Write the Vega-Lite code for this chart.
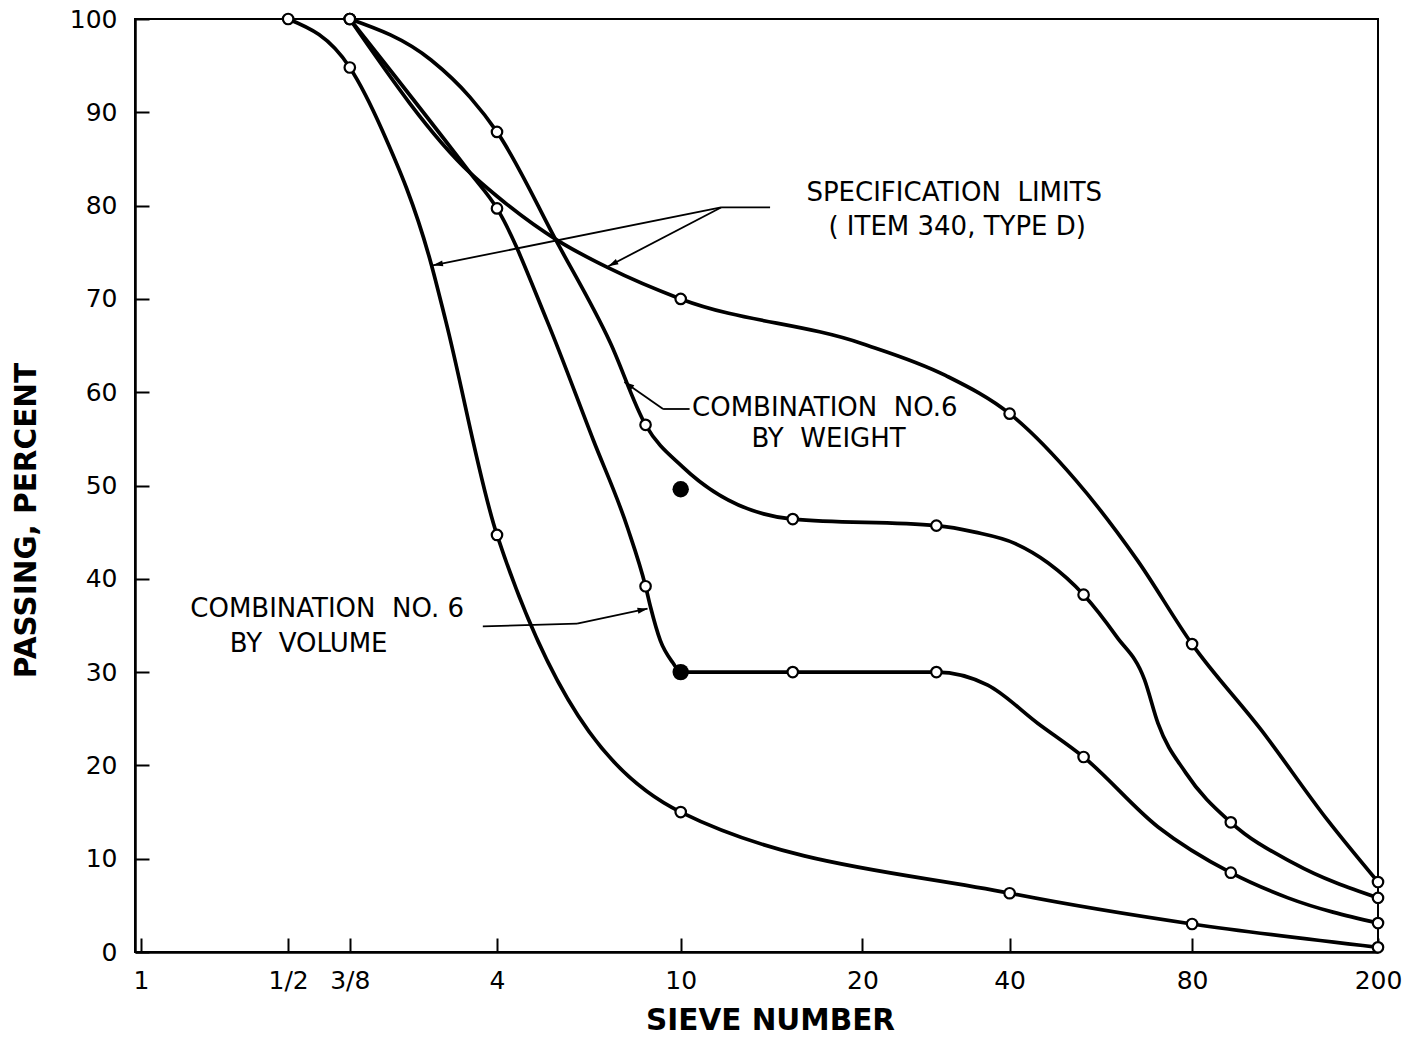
{
  "$schema": "https://vega.github.io/schema/vega-lite/v6.json",
  "width": 1243,
  "height": 933,
  "autosize": {"type": "none"},
  "padding": {"left": 135, "top": 19, "right": 36, "bottom": 87},
  "background": "white",
  "config": {
    "view": {"stroke": "black", "strokeWidth": 2},
    "font": "DejaVu Sans",
    "axis": {"grid": false}
  },
  "datasets": {
    "curves": [
      {"curve": "lower", "sieve": "1/2", "mm": 12.7, "pct": 100},
      {"curve": "lower", "sieve": "3/8", "mm": 9.5, "pct": 94.8},
      {"curve": "lower", "sieve": null, "mm": 8.16, "pct": 88.1},
      {"curve": "lower", "sieve": null, "mm": 6.48, "pct": 73.8},
      {"curve": "lower", "sieve": null, "mm": 6.05, "pct": 67.7},
      {"curve": "lower", "sieve": "4", "mm": 4.75, "pct": 44.7},
      {"curve": "lower", "sieve": "10", "mm": 2.0, "pct": 15.0},
      {"curve": "lower", "sieve": "40", "mm": 0.425, "pct": 6.3},
      {"curve": "lower", "sieve": "80", "mm": 0.18, "pct": 3.0},
      {"curve": "lower", "sieve": "200", "mm": 0.075, "pct": 0.5},

      {"curve": "upper", "sieve": "3/8", "mm": 9.5, "pct": 100},
      {"curve": "upper", "sieve": null, "mm": 5.39, "pct": 83.5},
      {"curve": "upper", "sieve": null, "mm": 4.75, "pct": 81.0},
      {"curve": "upper", "sieve": null, "mm": 3.58, "pct": 76.3},
      {"curve": "upper", "sieve": null, "mm": 2.83, "pct": 73.4},
      {"curve": "upper", "sieve": "10", "mm": 2.0, "pct": 70.0},
      {"curve": "upper", "sieve": null, "mm": 0.85, "pct": 65.2},
      {"curve": "upper", "sieve": null, "mm": 0.575, "pct": 61.8},
      {"curve": "upper", "sieve": "40", "mm": 0.425, "pct": 57.7},
      {"curve": "upper", "sieve": null, "mm": 0.3117, "pct": 50.6},
      {"curve": "upper", "sieve": null, "mm": 0.233, "pct": 42.0},
      {"curve": "upper", "sieve": "80", "mm": 0.18, "pct": 33.0},
      {"curve": "upper", "sieve": null, "mm": 0.13, "pct": 23.8},
      {"curve": "upper", "sieve": null, "mm": 0.095, "pct": 14.1},
      {"curve": "upper", "sieve": "200", "mm": 0.075, "pct": 7.5},

      {"curve": "weight", "sieve": "3/8", "mm": 9.5, "pct": 100},
      {"curve": "weight", "sieve": null, "mm": 6.48, "pct": 95.6},
      {"curve": "weight", "sieve": null, "mm": 5.39, "pct": 91.6},
      {"curve": "weight", "sieve": "4", "mm": 4.75, "pct": 87.9},
      {"curve": "weight", "sieve": null, "mm": 3.583, "pct": 76.1},
      {"curve": "weight", "sieve": null, "mm": 2.786, "pct": 65.3},
      {"curve": "weight", "sieve": "8", "mm": 2.36, "pct": 56.5},
      {"curve": "weight", "sieve": null, "mm": 1.982, "pct": 52.0},
      {"curve": "weight", "sieve": "16", "mm": 1.18, "pct": 46.4},
      {"curve": "weight", "sieve": "30", "mm": 0.6, "pct": 45.7},
      {"curve": "weight", "sieve": null, "mm": 0.5004, "pct": 45.0},
      {"curve": "weight", "sieve": null, "mm": 0.4149, "pct": 43.8},
      {"curve": "weight", "sieve": null, "mm": 0.3544, "pct": 41.7},
      {"curve": "weight", "sieve": "50", "mm": 0.3, "pct": 38.3},
      {"curve": "weight", "sieve": null, "mm": 0.2568, "pct": 33.8},
      {"curve": "weight", "sieve": null, "mm": 0.2252, "pct": 29.2},
      {"curve": "weight", "sieve": null, "mm": 0.2113, "pct": 24.5},
      {"curve": "weight", "sieve": null, "mm": 0.1854, "pct": 19.2},
      {"curve": "weight", "sieve": "100", "mm": 0.15, "pct": 13.9},
      {"curve": "weight", "sieve": null, "mm": 0.1114, "pct": 9.5},
      {"curve": "weight", "sieve": "200", "mm": 0.075, "pct": 5.8},

      {"curve": "volume", "sieve": "3/8", "mm": 9.5, "pct": 100},
      {"curve": "volume", "sieve": null, "mm": 5.39, "pct": 83.5},
      {"curve": "volume", "sieve": "4", "mm": 4.75, "pct": 79.7},
      {"curve": "volume", "sieve": null, "mm": 3.756, "pct": 67.7},
      {"curve": "volume", "sieve": null, "mm": 3.02, "pct": 54.9},
      {"curve": "volume", "sieve": null, "mm": 2.57, "pct": 45.5},
      {"curve": "volume", "sieve": "8", "mm": 2.36, "pct": 39.2},
      {"curve": "volume", "sieve": null, "mm": 2.306, "pct": 37.0},
      {"curve": "volume", "sieve": null, "mm": 2.202, "pct": 33.4},
      {"curve": "volume", "sieve": null, "mm": 2.075, "pct": 31.0},
      {"curve": "volume", "sieve": "10", "mm": 2.0, "pct": 30.0},
      {"curve": "volume", "sieve": "16", "mm": 1.18, "pct": 30.0},
      {"curve": "volume", "sieve": "30", "mm": 0.6, "pct": 30.0},
      {"curve": "volume", "sieve": null, "mm": 0.471, "pct": 28.6},
      {"curve": "volume", "sieve": null, "mm": 0.3719, "pct": 24.5},
      {"curve": "volume", "sieve": "50", "mm": 0.3, "pct": 20.9},
      {"curve": "volume", "sieve": null, "mm": 0.2113, "pct": 13.4},
      {"curve": "volume", "sieve": "100", "mm": 0.15, "pct": 8.5},
      {"curve": "volume", "sieve": null, "mm": 0.1146, "pct": 5.8},
      {"curve": "volume", "sieve": "200", "mm": 0.075, "pct": 3.1}
    ],
    "solid": [
      {"mm": 2.0, "pct": 49.6},
      {"mm": 2.0, "pct": 30.0}
    ],
    "leaders": [
      {"mm": 1.313, "pct": 79.8, "mm2": 1.654, "pct2": 79.8},
      {"mm": 1.654, "pct": 79.8, "mm2": 6.423, "pct2": 73.6},
      {"mm": 1.654, "pct": 79.8, "mm2": 2.812, "pct2": 73.5},
      {"mm": 1.918, "pct": 58.2, "mm2": 2.173, "pct2": 58.2},
      {"mm": 2.173, "pct": 58.2, "mm2": 2.607, "pct2": 61.1},
      {"mm": 5.078, "pct": 34.9, "mm2": 3.258, "pct2": 35.2},
      {"mm": 3.258, "pct": 35.2, "mm2": 2.338, "pct2": 36.8}
    ],
    "arrows": [
      {"name": "spec_lower", "mm": 6.423, "pct": 73.6},
      {"name": "spec_upper", "mm": 2.812, "pct": 73.5},
      {"name": "weight", "mm": 2.607, "pct": 61.1},
      {"name": "volume", "mm": 2.338, "pct": 36.8}
    ],
    "notes": [
      {"label": "SPECIFICATION \u00a0LIMITS", "mm": 0.5516, "pct": 81.35},
      {"label": "( ITEM 340, TYPE D)", "mm": 0.544, "pct": 77.7},
      {"label": "COMBINATION \u00a0NO.6", "mm": 1.015, "pct": 58.3},
      {"label": "BY \u00a0WEIGHT", "mm": 0.997, "pct": 55.0},
      {"label": "COMBINATION \u00a0NO. 6", "mm": 10.57, "pct": 36.76},
      {"label": "BY \u00a0VOLUME", "mm": 11.53, "pct": 33.0}
    ]
  },
  "encoding": {
    "x": {
      "field": "mm",
      "type": "quantitative",
      "scale": {"type": "log", "domain": [0.075, 26.12], "reverse": true, "nice": false, "zero": false},
      "axis": {
        "values": [25.4, 12.7, 9.5, 4.75, 2, 0.85, 0.425, 0.18, 0.075],
        "labelExpr": "datum.value == 25.4 ? '1' : datum.value == 12.7 ? '1/2' : datum.value == 9.5 ? '3/8' : datum.value == 4.75 ? '4' : datum.value == 2 ? '10' : datum.value == 0.85 ? '20' : datum.value == 0.425 ? '40' : datum.value == 0.18 ? '80' : '200'",
        "title": "SIEVE NUMBER",
        "tickSize": -14,
        "tickWidth": 2,
        "tickColor": "black",
        "domainColor": "black",
        "domainWidth": 2.5,
        "labelFontSize": 25,
        "labelColor": "black",
        "labelPadding": 30,
        "labelFlush": false,
        "labelOverlap": false,
        "titleFontSize": 29.5,
        "titleFontWeight": "bold",
        "titleColor": "black",
        "titlePadding": 13,
        "titleX": 635
      }
    },
    "y": {
      "field": "pct",
      "type": "quantitative",
      "scale": {"domain": [0, 100], "nice": false, "zero": true},
      "axis": {
        "values": [0, 10, 20, 30, 40, 50, 60, 70, 80, 90, 100],
        "title": "PASSING, PERCENT",
        "tickSize": -14,
        "tickWidth": 2,
        "tickColor": "black",
        "domainColor": "black",
        "domainWidth": 2.5,
        "labelFontSize": 25,
        "labelColor": "black",
        "labelPadding": 32,
        "labelFlush": false,
        "labelOverlap": false,
        "titleFontSize": 29.5,
        "titleFontWeight": "bold",
        "titleColor": "black",
        "titlePadding": 28,
        "titleY": 501
      }
    }
  },
  "layer": [
    {
      "data": {"name": "curves"},
      "mark": {"type": "line", "interpolate": "monotone", "strokeWidth": 3.7, "color": "black"},
      "encoding": {
        "detail": {"field": "curve"},
        "order": {"field": "mm", "sort": "descending"}
      }
    },
    {
      "data": {"name": "leaders"},
      "mark": {"type": "rule", "strokeWidth": 1.8, "color": "black"},
      "encoding": {
        "x2": {"field": "mm2"},
        "y2": {"field": "pct2"}
      }
    },
    {
      "data": {"name": "arrows"},
      "transform": [{"filter": "datum.name == 'spec_lower'"}],
      "mark": {"type": "point", "shape": "M0,0L-2,-0.6L-2,0.6Z", "size": 100, "filled": true, "color": "black", "opacity": 1, "angle": 168.7}
    },
    {
      "data": {"name": "arrows"},
      "transform": [{"filter": "datum.name == 'spec_upper'"}],
      "mark": {"type": "point", "shape": "M0,0L-2,-0.6L-2,0.6Z", "size": 100, "filled": true, "color": "black", "opacity": 1, "angle": 152.6}
    },
    {
      "data": {"name": "arrows"},
      "transform": [{"filter": "datum.name == 'weight'"}],
      "mark": {"type": "point", "shape": "M0,0L-2,-0.6L-2,0.6Z", "size": 100, "filled": true, "color": "black", "opacity": 1, "angle": 214.7}
    },
    {
      "data": {"name": "arrows"},
      "transform": [{"filter": "datum.name == 'volume'"}],
      "mark": {"type": "point", "shape": "M0,0L-2,-0.6L-2,0.6Z", "size": 100, "filled": true, "color": "black", "opacity": 1, "angle": 347.9}
    },
    {
      "data": {"name": "curves"},
      "transform": [{"filter": "datum.sieve != null"}],
      "mark": {"type": "point", "shape": "circle", "filled": true, "fill": "white", "stroke": "black", "strokeWidth": 2.2, "size": 110, "opacity": 1}
    },
    {
      "data": {"name": "solid"},
      "mark": {"type": "point", "shape": "circle", "filled": true, "color": "black", "size": 270, "opacity": 1}
    },
    {
      "data": {"name": "notes"},
      "mark": {"type": "text", "fontSize": 26, "align": "center", "baseline": "middle", "color": "black", "font": "DejaVu Sans"},
      "encoding": {"text": {"field": "label"}}
    }
  ]
}
